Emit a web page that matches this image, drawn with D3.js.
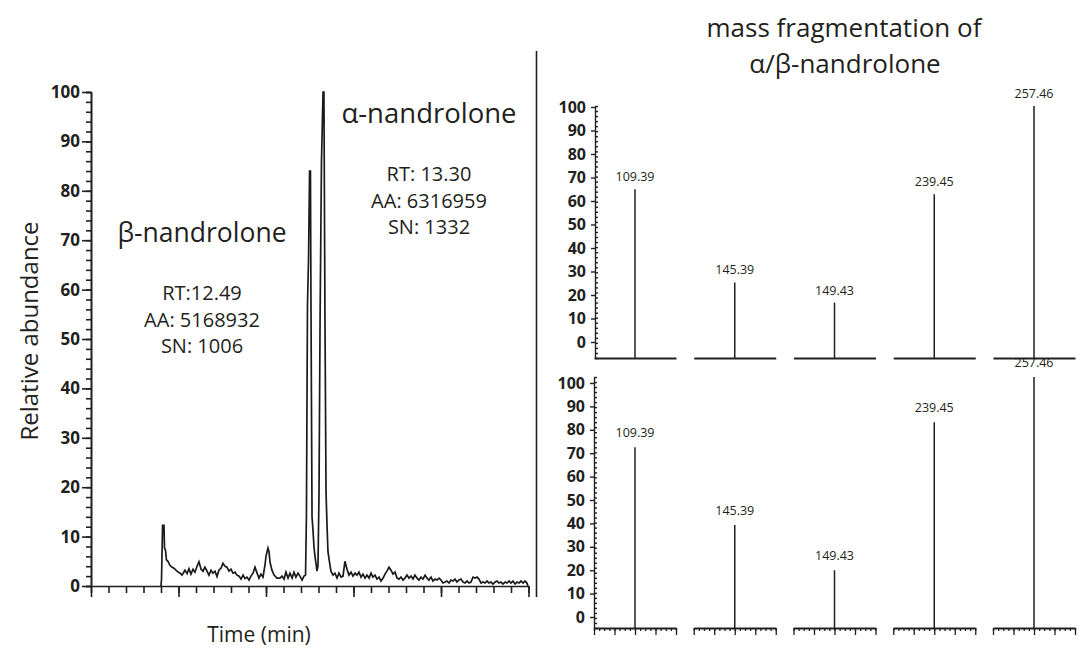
<!DOCTYPE html>
<html>
<head>
<meta charset="utf-8">
<script src="https://cdn.jsdelivr.net/npm/d3@7"></script>
<style>
body { margin: 0; background: #fff; }
text { font-family: "Open Sans", sans-serif; fill: #231f20; }
.tick text { font-family: "Open Sans", sans-serif; font-weight: 700; }
.axis path, .axis line { stroke: #231f20; }
</style>
</head>
<body>
<div id="chart"></div>
<script>
// chromatogram trace: time (min) and relative abundance (%)
var traceTime = [4.00, 4.03, 4.09, 4.17, 4.20, 4.26, 4.31, 4.40, 4.51, 4.63, 4.74, 4.91, 5.09, 5.20, 5.37, 5.49,
  5.60, 5.71, 5.83, 5.94, 6.06, 6.17, 6.29, 6.40, 6.51, 6.63, 6.74, 6.86, 6.97, 7.09, 7.20, 7.31, 7.43, 7.54,
  7.66, 7.77, 7.89, 8.00, 8.11, 8.23, 8.34, 8.46, 8.57, 8.69, 8.80, 8.91, 9.03, 9.14, 9.26, 9.37, 9.49, 9.60,
  9.71, 9.83, 9.94, 10.00, 10.11, 10.17, 10.23, 10.34, 10.46, 10.63, 10.80, 10.91, 11.03, 11.14, 11.26, 11.37,
  11.49, 11.60, 11.71, 11.83, 11.94, 12.06, 12.17, 12.26, 12.31, 12.37, 12.43, 12.49, 12.54, 12.57, 12.63,
  12.69, 12.74, 12.80, 12.86, 12.91, 12.97, 13.03, 13.09, 13.17, 13.26, 13.31, 13.37, 13.43, 13.49, 13.54,
  13.60, 13.71, 13.83, 13.94, 14.06, 14.17, 14.29, 14.40, 14.51, 14.63, 14.74, 14.86, 14.97, 15.09, 15.20,
  15.31, 15.43, 15.54, 15.66, 15.77, 15.89, 16.00, 16.11, 16.23, 16.34, 16.46, 16.57, 16.69, 16.80, 16.91,
  17.03, 17.14, 17.26, 17.37, 17.49, 17.60, 17.71, 17.83, 17.94, 18.06, 18.17, 18.29, 18.40, 18.51, 18.63,
  18.74, 18.86, 18.97, 19.09, 19.20, 19.31, 19.43, 19.54, 19.66, 19.77, 19.89, 20.00, 20.11, 20.23, 20.34,
  20.46, 20.57, 20.69, 20.80, 20.91, 21.03, 21.14, 21.26, 21.37, 21.49, 21.60, 21.71, 21.83, 21.94, 22.06,
  22.17, 22.29, 22.40, 22.51, 22.63, 22.74, 22.86, 22.97, 23.09, 23.20, 23.31, 23.43, 23.54, 23.66, 23.77,
  23.89, 24.00, 24.11, 24.23, 24.34, 24.46, 24.57, 24.69, 24.80, 24.91, 24.97];
var traceAbund = [0, 1.4, 12.3, 12.3, 7.7, 7.2, 5.3, 5.0, 4.2, 3.8, 3.6, 3.0, 2.6, 2.2, 3.2, 2.5,
  3.5, 2.4, 3.4, 2.8, 4.0, 4.9, 3.4, 3.0, 3.8, 3.0, 2.2, 3.2, 2.6, 3.0, 1.9, 3.2, 3.6, 4.6,
  4.0, 3.8, 3.0, 3.4, 2.6, 2.8, 2.2, 2.0, 1.4, 2.2, 1.5, 1.8, 1.2, 2.0, 2.6, 3.8, 2.6, 1.6,
  2.4, 1.8, 4.2, 6.0, 7.7, 7.0, 4.8, 3.2, 2.2, 1.6, 1.6, 2.0, 1.4, 2.8, 1.6, 2.6,
  1.6, 2.8, 1.8, 2.6, 2.0, 1.2, 2.0, 2.2, 14, 57, 66, 84, 84, 57, 14,
  11, 8, 6, 4.5, 3.0, 4.0, 19, 54, 86, 100, 100, 54, 19, 12, 7,
  5.5, 3.0, 2.2, 2.6, 1.6, 2.6, 1.8, 2.0, 5.0, 3.4, 2.2, 2.8, 2.0, 2.6, 2.2,
  2.8, 1.8, 2.4, 1.6, 2.2, 1.6, 2.6, 1.8, 2.2, 1.4, 1.8, 1.0, 1.6, 2.4, 3.0,
  3.8, 3.2, 2.4, 2.8, 1.6, 1.4, 1.8, 1.2, 1.6, 2.2, 1.6, 2.0, 1.4, 2.2, 1.6,
  1.2, 1.8, 1.4, 2.2, 1.6, 1.2, 1.8, 1.0, 1.4, 1.2, 1.6, 1.2, 0.6, 0.8, 1.0,
  0.6, 1.2, 1.0, 1.4, 0.8, 1.2, 1.4, 0.8, 0.6, 1.0, 0.6, 0.8, 1.8, 1.6, 1.8,
  1.4, 0.6, 0.8, 0.6, 1.0, 0.6, 0.8, 0.4, 0.8, 1.0, 0.6, 0.8, 0.4, 0.8, 0.6,
  1.0, 0.6, 1.0, 0.4, 0.8, 0.6, 1.0, 0.6, 1.0, 0.6, 0];

// peak annotations
var peakNames = ["β-nandrolone", "α-nandrolone"];
var peakInfo = [["RT:12.49", "AA: 5168932", "SN: 1006"], ["RT: 13.30", "AA: 6316959", "SN: 1332"]];

// mass fragments (m/z) and relative abundance in the two spectra
var fragLabels = ["109.39", "145.39", "149.43", "239.45", "257.46"];
var fragMz = [109.39, 145.39, 149.43, 239.45, 257.46];
var topAbund = [67, 30, 22, 65, 100];
var bottomAbund = [72, 41, 23, 82, 100];
var abundTicks = [0, 10, 20, 30, 40, 50, 60, 70, 80, 90, 100];

var width = 1083, height = 653;

var svg = d3.select("#chart")
  .append("svg")
  .attr("width", width)
  .attr("height", height);

// ---------- chromatogram ----------
var x = d3.scaleLinear().domain([0, 25]).range([91, 528.5]);
var y = d3.scaleLinear().domain([0, 100]).range([586, 92]);

// minor y ticks
svg.append("g")
  .attr("class", "axis")
  .attr("transform", "translate(91,0)")
  .call(d3.axisLeft(y).tickValues(d3.range(0, 101, 2)).tickSize(5).tickFormat(""))
  .call(g => g.selectAll("path, line").attr("stroke-width", 1.6));

// major y ticks with labels
svg.append("g")
  .attr("class", "axis")
  .attr("transform", "translate(91,0)")
  .call(d3.axisLeft(y).tickValues(abundTicks).tickSize(9).tickPadding(2).tickSizeOuter(0))
  .call(g => g.selectAll("path, line").attr("stroke-width", 1.6))
  .call(g => g.selectAll("text").attr("font-size", 17));

// x ticks (no labels)
svg.append("g")
  .attr("class", "axis")
  .attr("transform", "translate(0,586)")
  .call(d3.axisBottom(x).tickValues(d3.range(0, 26)).tickSize(7).tickFormat("").tickSizeOuter(0))
  .call(g => g.selectAll("path, line").attr("stroke-width", 1.6));

svg.append("g")
  .attr("class", "axis")
  .attr("transform", "translate(0,586)")
  .call(d3.axisBottom(x).tickValues(d3.range(0, 26, 5)).tickSize(11).tickFormat("").tickSizeOuter(0))
  .call(g => g.select(".domain").remove())
  .call(g => g.selectAll("line").attr("stroke-width", 1.6));

var trace = d3.range(traceTime.length).map(function(i) {
  return { t: traceTime[i], v: traceAbund[i] };
});

svg.append("path")
  .datum(trace)
  .attr("fill", "none")
  .attr("stroke", "#1a1a1a")
  .attr("stroke-width", 1.7)
  .attr("stroke-linejoin", "miter")
  .attr("d", d3.line().x(d => x(d.t)).y(d => y(d.v)));

// axis titles
svg.append("text")
  .attr("transform", "translate(38,331) rotate(-90)")
  .attr("text-anchor", "middle")
  .attr("font-size", 24)
  .text("Relative abundance");

svg.append("text")
  .attr("x", 259)
  .attr("y", 642)
  .attr("text-anchor", "middle")
  .attr("font-size", 21)
  .text("Time (min)");

// peak labels
var nameX = [202, 429], nameY = [242, 123];
peakNames.forEach(function(name, i) {
  svg.append("text")
    .attr("x", nameX[i])
    .attr("y", nameY[i])
    .attr("text-anchor", "middle")
    .attr("font-size", i === 0 ? 26.5 : 27.5)
    .text(name);
  peakInfo[i].forEach(function(line, j) {
    svg.append("text")
      .attr("x", nameX[i])
      .attr("y", nameY[i] + 58 + j * 26.5)
      .attr("text-anchor", "middle")
      .attr("font-size", 20)
      .text(line);
  });
});

// separator
svg.append("line")
  .attr("x1", 536.5).attr("x2", 536.5)
  .attr("y1", 51).attr("y2", 597)
  .attr("stroke", "#231f20")
  .attr("stroke-width", 1.6);

// ---------- mass spectra ----------
svg.append("text")
  .attr("x", 844)
  .attr("y", 37)
  .attr("text-anchor", "middle")
  .attr("font-size", 26)
  .text("mass fragmentation of");

svg.append("text")
  .attr("x", 845)
  .attr("y", 73)
  .attr("text-anchor", "middle")
  .attr("font-size", 26)
  .text("α/β-nandrolone");

var centre = d3.scalePoint().domain(fragLabels).range([635, 1034]);

function drawSpectrum(abund, barRange, labelRange, axisX, withTicks, labelGap) {
  var yBar = d3.scaleLinear().domain([0, 100]).range(barRange);
  var yLab = d3.scaleLinear().domain([0, 100]).range(labelRange);

  svg.append("g")
    .attr("class", "axis")
    .attr("transform", "translate(" + axisX + ",0)")
    .call(d3.axisRight(yBar).tickValues(d3.range(0, 101, 2)).tickSize(3).tickFormat("").tickSizeOuter(0))
    .call(g => g.selectAll("path, line").attr("stroke-width", 1.4));

  svg.append("g")
    .attr("class", "axis")
    .attr("transform", "translate(" + axisX + ",0)")
    .call(d3.axisLeft(yLab).tickValues(abundTicks).tickSize(4).tickPadding(5))
    .call(g => g.select(".domain").remove())
    .call(g => g.selectAll("line").attr("stroke-width", 1.4))
    .call(g => g.selectAll("text").attr("font-size", 16));

  fragLabels.forEach(function(lab, i) {
    var c = centre(lab);
    var local = d3.scaleLinear().domain([fragMz[i] - 2, fragMz[i] + 2]).range([c - 41, c + 41]);
    var g = svg.append("g")
      .attr("class", "axis")
      .attr("transform", "translate(0," + barRange[0] + ")");
    if (withTicks) {
      g.call(d3.axisBottom(local).tickValues(d3.range(fragMz[i] - 2, fragMz[i] + 2.01, 0.25))
        .tickSize(3).tickFormat("").tickSizeOuter(0));
      g.append("g").call(d3.axisBottom(local).tickValues(d3.range(fragMz[i] - 2, fragMz[i] + 2.01, 1))
        .tickSize(7).tickFormat("").tickSizeOuter(0))
        .call(s => s.select(".domain").remove());
    } else {
      g.call(d3.axisBottom(local).tickValues([]).tickSizeOuter(0));
    }
    g.selectAll("path").attr("stroke-width", 2);
    g.selectAll("line").attr("stroke-width", 1.3);

    svg.append("line")
      .attr("x1", local(fragMz[i])).attr("x2", local(fragMz[i]))
      .attr("y1", yBar(0)).attr("y2", yBar(abund[i]))
      .attr("stroke", "#231f20")
      .attr("stroke-width", 1.5);

    svg.append("text")
      .attr("x", local(fragMz[i]))
      .attr("y", yBar(abund[i]) - labelGap)
      .attr("text-anchor", "middle")
      .attr("font-size", 12.5)
      .text(lab);
  });
}

drawSpectrum(topAbund, [358, 106], [342, 107], 595, false, 8);
drawSpectrum(bottomAbund, [628, 377], [617, 383], 594, true, 10);
</script>
</body>
</html>
